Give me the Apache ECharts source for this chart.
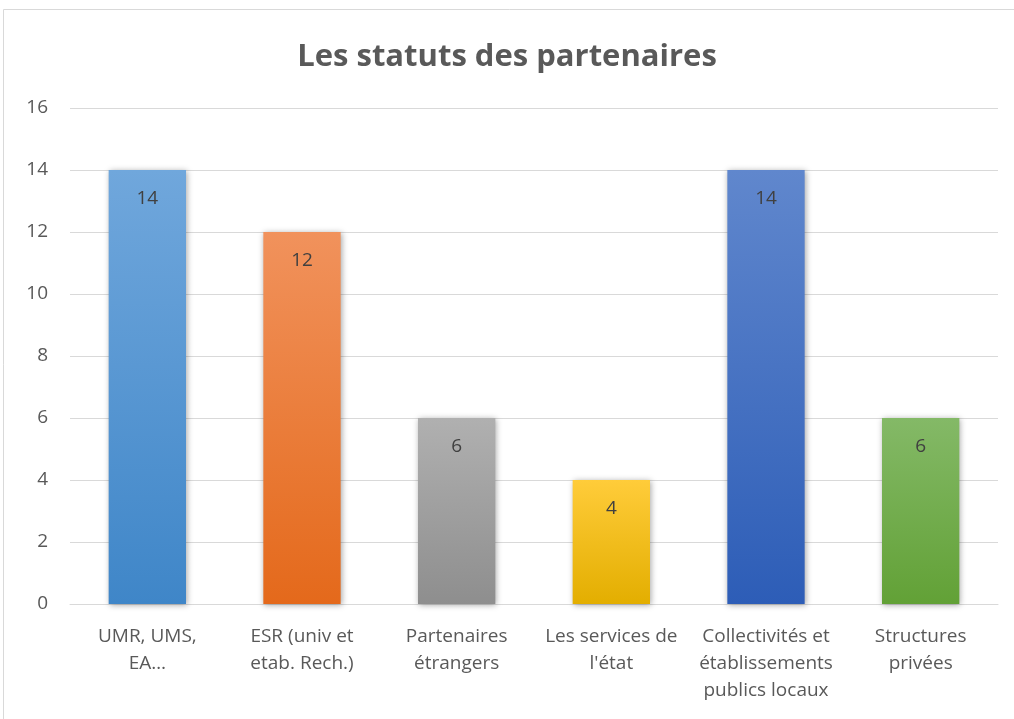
<!DOCTYPE html>
<html>
<head>
<meta charset="utf-8">
<script src="https://cdn.jsdelivr.net/npm/echarts@6/dist/echarts.min.js"></script>
<style>
  html, body { margin: 0; padding: 0; background: #fff; }
  #main { width: 1014px; height: 719px; }
</style>
</head>
<body>
<div id="main"></div>
<script>
// catégories et valeurs
var categories = ['UMR, UMS,\nEA…', 'ESR (univ et\netab. Rech.)', 'Partenaires\nétrangers', 'Les services de\nl\'état', 'Collectivités et\nétablissements\npublics locaux', 'Structures\nprivées'];
var values = [14, 12, 6, 4, 14, 6];
var yTicks = [0, 2, 4, 6, 8, 10, 12, 14, 16];

// couleurs des barres (haut, bas)
var barColors = [
    ['#70A7DC', '#3F86C8'],
    ['#F1925C', '#E4691B'],
    ['#B0B0B0', '#8E8E8E'],
    ['#FFCC3A', '#E3AE00'],
    ['#6087CD', '#2D5DB7'],
    ['#84B967', '#62A136']
];

var chart = echarts.init(document.getElementById('main'));
var fontFam = '"Open Sans", "Liberation Sans", sans-serif';

var option = {
    backgroundColor: '#fff',
    animation: false,
    title: {
        text: 'Les statuts des partenaires',
        left: 'center',
        top: 37,
        textStyle: {
            fontFamily: fontFam,
            fontSize: 31,
            fontWeight: 'bold',
            color: '#595959'
        }
    },
    graphic: [{
        type: 'rect',
        shape: { x: 3.5, y: 9.5, width: 1030, height: 720 },
        style: { fill: 'none', stroke: '#D9D9D9', lineWidth: 1 },
        silent: true
    }],
    grid: {
        left: 70,
        right: 16,
        top: 108,
        bottom: 115
    },
    xAxis: {
        type: 'category',
        data: categories,
        axisLine: { lineStyle: { color: '#D9D9D9', width: 1 } },
        axisTick: { show: false },
        axisLabel: {
            fontFamily: fontFam,
            fontSize: 19,
            color: '#595959',
            lineHeight: 27,
            margin: 19,
            interval: 0
        }
    },
    yAxis: {
        type: 'value',
        min: 0,
        max: yTicks[yTicks.length - 1],
        interval: 2,
        axisLine: { show: false },
        axisTick: { show: false },
        splitLine: { lineStyle: { color: '#D9D9D9', width: 1 } },
        axisLabel: {
            fontFamily: fontFam,
            fontSize: 19,
            color: '#595959',
            margin: 22
        }
    },
    series: [{
        type: 'bar',
        barWidth: '50%',
        data: values.map(function (v, i) {
            return {
                value: v,
                itemStyle: {
                    color: new echarts.graphic.LinearGradient(0, 0, 0, 1, [
                        { offset: 0, color: barColors[i][0] },
                        { offset: 1, color: barColors[i][1] }
                    ]),
                    shadowColor: 'rgba(0,0,0,0.35)',
                    shadowBlur: 6,
                    shadowOffsetX: 1,
                    shadowOffsetY: 1
                }
            };
        }),
        label: {
            show: true,
            position: 'insideTop',
            distance: 19,
            fontFamily: fontFam,
            fontSize: 19,
            color: '#404040'
        }
    }]
};

chart.setOption(option);
</script>
</body>
</html>
